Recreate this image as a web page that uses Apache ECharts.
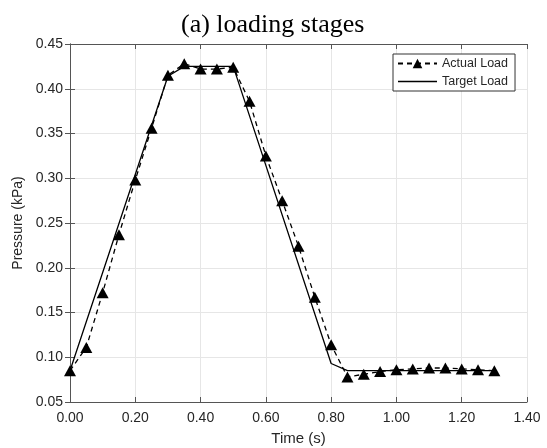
<!DOCTYPE html>
<html>
<head>
<meta charset="utf-8">
<script src="https://cdn.jsdelivr.net/npm/echarts@6/dist/echarts.min.js"></script>
<style>
  html, body { margin: 0; padding: 0; background: #fff; }
  #chart { width: 547px; height: 448px; }
</style>
</head>
<body>
<div id="chart"></div>
<script>
// Measured pressure, sampled every 0.05 s
const actualTime = [0.00, 0.05, 0.10, 0.15, 0.20, 0.25, 0.30, 0.35, 0.40, 0.45, 0.50,
                    0.55, 0.60, 0.65, 0.70, 0.75, 0.80, 0.85, 0.90, 0.95, 1.00,
                    1.05, 1.10, 1.15, 1.20, 1.25, 1.30];
const actualLoad = [0.085, 0.111, 0.172, 0.237, 0.298, 0.356, 0.415, 0.428, 0.422, 0.422, 0.424,
                    0.386, 0.325, 0.275, 0.224, 0.167, 0.114, 0.078, 0.081, 0.084, 0.086,
                    0.087, 0.088, 0.088, 0.087, 0.086, 0.085];

// Target load profile (corner points)
const targetTime = [0.00, 0.30, 0.35, 0.50, 0.80, 0.85, 1.30];
const targetLoad = [0.085, 0.414, 0.425, 0.425, 0.093, 0.085, 0.085];

const xTicks = { min: 0, max: 1.4, step: 0.2 };
const yTicks = { min: 0.05, max: 0.45, step: 0.05 };

const FONT = 'Arial, "Liberation Sans", Helvetica, sans-serif';
const AXIS_COLOR = '#555';
const TEXT_COLOR = '#262626';

const pairs = (xs, ys) => xs.map((x, i) => [x, ys[i]]);

const baseX = {
  type: 'value', min: xTicks.min, max: xTicks.max, interval: xTicks.step,
  axisLine: { show: true, lineStyle: { color: AXIS_COLOR, width: 1 } },
  axisTick: { show: true, inside: true, length: 5, lineStyle: { color: AXIS_COLOR } },
  splitLine: { show: false }
};
const baseY = {
  type: 'value', min: yTicks.min, max: yTicks.max, interval: yTicks.step,
  axisLine: { show: true, lineStyle: { color: AXIS_COLOR, width: 1 } },
  axisTick: { show: true, inside: true, length: 5, lineStyle: { color: AXIS_COLOR } },
  splitLine: { show: false }
};

const chart = echarts.init(document.getElementById('chart'), null, { renderer: 'canvas' });
chart.setOption({
  backgroundColor: '#fff',
  animation: false,
  title: {
    text: '(a) loading stages',
    left: 176, top: 7,
    textStyle: { fontFamily: '"Times New Roman", "Liberation Serif", serif', fontSize: 26, fontWeight: 'normal', color: '#000' }
  },
  grid: { left: 70, right: 20, top: 44, bottom: 46, outerBoundsMode: 'none' },
  legend: {
    orient: 'vertical', left: 393, top: 54,
    padding: [3, 7, 3, 4],
    itemWidth: 39, itemHeight: 12, itemGap: 5,
    borderColor: '#333', borderWidth: 1, backgroundColor: '#fff',
    textStyle: { fontFamily: FONT, fontSize: 12.5, color: TEXT_COLOR },
    data: [
      { name: 'Actual Load' },
      // plain solid stroke for the target entry
      { name: 'Target Load', icon: 'path://M0,0H40V1.3H0Z' }
    ]
  },
  xAxis: [
    Object.assign({}, baseX, {
      position: 'bottom',
      name: 'Time (s)', nameLocation: 'middle', nameGap: 29,
      nameTextStyle: { fontFamily: FONT, fontSize: 15, color: TEXT_COLOR },
      axisLabel: { fontFamily: FONT, fontSize: 14, color: TEXT_COLOR, margin: 9,
                   formatter: v => v.toFixed(2) },
      splitLine: { show: true, lineStyle: { color: '#e6e6e6', width: 1 } }
    }),
    Object.assign({}, baseX, { position: 'top', axisLabel: { show: false } })
  ],
  yAxis: [
    Object.assign({}, baseY, {
      position: 'left',
      name: 'Pressure (kPa)', nameLocation: 'middle', nameGap: 35,
      nameTextStyle: { fontFamily: FONT, fontSize: 14, color: TEXT_COLOR },
      axisLabel: { fontFamily: FONT, fontSize: 14, color: TEXT_COLOR, margin: 7,
                   formatter: v => v.toFixed(2) },
      splitLine: { show: true, lineStyle: { color: '#e6e6e6', width: 1 } }
    }),
    Object.assign({}, baseY, { position: 'right', axisLabel: { show: false } })
  ],
  series: [
    {
      name: 'Actual Load', type: 'line', xAxisIndex: 0, yAxisIndex: 0,
      data: pairs(actualTime, actualLoad),
      symbol: 'triangle', symbolSize: [12, 11], showAllSymbol: true,
      itemStyle: { color: '#000' },
      lineStyle: { color: '#000', width: 1.3, type: [5, 4] },
      z: 3
    },
    {
      name: 'Target Load', type: 'line', xAxisIndex: 0, yAxisIndex: 0,
      data: pairs(targetTime, targetLoad),
      symbol: 'none',
      itemStyle: { color: '#000' },
      lineStyle: { color: '#000', width: 1.3, type: 'solid' },
      z: 2
    }
  ]
});
</script>
</body>
</html>
